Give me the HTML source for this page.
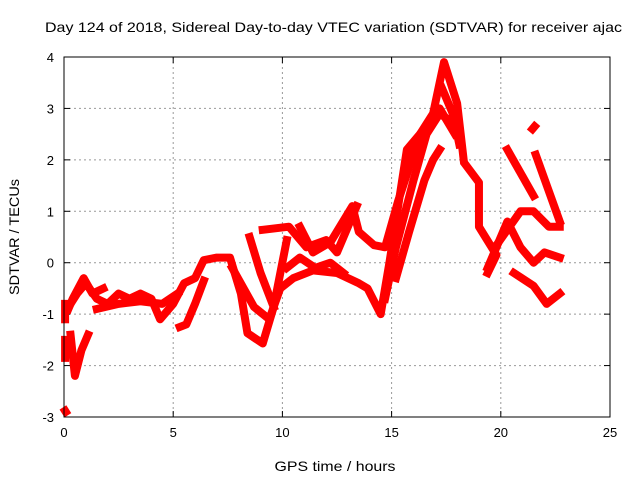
<!DOCTYPE html>
<html><head><meta charset="utf-8"><style>
body{margin:0;background:#fff}
svg{display:block;font-family:"Liberation Sans",sans-serif}
</style></head><body>
<svg id="chart" width="640" height="480" viewBox="0 0 640 480" xmlns="http://www.w3.org/2000/svg">
<text x="45" y="32" font-size="14" textLength="577" lengthAdjust="spacingAndGlyphs">Day 124 of 2018, Sidereal Day-to-day VTEC variation (SDTVAR) for receiver ajac</text>
<text transform="translate(19,237) rotate(-90)" text-anchor="middle" font-size="14" textLength="116" lengthAdjust="spacingAndGlyphs">SDTVAR / TECUs</text>
<text x="335" y="471" text-anchor="middle" font-size="14" textLength="121" lengthAdjust="spacingAndGlyphs">GPS time / hours</text>
<g id="grid"></g><g id="ticks"></g><g id="marks"></g>
<rect x="64" y="57" width="546" height="360" fill="none" stroke="#000" stroke-width="1"/>
</svg>
<script>
const xTicks=[0,5,10,15,20,25];
const yTicks=[-3,-2,-1,0,1,2,3,4];
const track1=[[0.3,-0.8],[0.6,-0.6],[1,-0.4],[1.5,-0.7],[2,-0.8],[2.5,-0.6],[3,-0.7],[3.5,-0.6],[4,-0.7],[4.4,-1.1],[5,-0.8],[5.5,-0.4],[6,-0.3],[6.4,0.05],[7,0.1],[7.6,0.1],[8.1,-0.6],[8.4,-1.37],[9.1,-1.57],[9.6,-0.86],[10.2,0.44]];
const track2=[[0.3,-1.4],[0.5,-2.2],[0.8,-1.7],[1.1,-1.4]];
const track3=[[0.2,-0.9],[0.4,-0.7],[0.9,-0.3],[1.3,-0.6],[1.8,-0.5]];
const track4=[[6.4,-0.35],[6,-0.8],[5.6,-1.2],[5.3,-1.25]];
const track5=[[7.7,-0.1],[8.7,-0.86],[9.4,-1.1],[9.9,-0.5],[10.5,-0.3],[11.4,-0.15],[12.5,-0.2],[13.5,-0.4],[13.9,-0.5],[14.5,-1.0],[14.9,0],[15.7,2.2],[16.3,2.5],[16.9,2.9],[17.4,3.9],[18,3.1],[18.3,2.0]];
const track6=[[8.5,0.5],[9,-0.2],[9.6,-0.86]];
const track7=[[9.1,0.64],[10.3,0.7],[11.1,0.3],[12,0.44],[12.5,0.2],[13.4,1.1]];
const track8=[[10.8,0.7],[11.4,0.2],[12.2,0.4],[13.2,1.1],[13.5,0.6],[14.2,0.34],[14.7,0.3],[15.3,1.2],[16.3,2.5],[17.2,3.0],[17.9,2.5]];
const track9=[[14.7,-0.7],[15.2,0.3],[16,1.6],[16.6,2.5],[17.2,2.9],[17.9,2.7]];
const track10=[[15.2,-0.3],[15.8,0.6],[16.5,1.6],[16.9,2.0],[17.2,2.2]];
const track11=[[18.4,1.9],[19,1.56],[19,0.7],[19.8,0.15],[19.4,-0.2]];
const track12=[[20.3,2.2],[21.5,1.3]];
const track13=[[21.6,2.1],[22.7,0.8]];
const track14=[[20.6,-0.2],[21.5,-0.45],[22.1,-0.8],[22.7,-0.6]];
const track15=[[19.9,0.4],[20.9,1.0],[21.5,1.0],[22.2,0.7],[22.7,0.7]];
const track16=[[19.4,-0.1],[20.3,0.8],[20.9,0.3],[21.5,0],[22,0.2],[22.7,0.1]];
const track17=[[21.45,2.6],[21.55,2.65]];
const track18=[[0.05,-0.8],[0.05,-1.1]];
const track19=[[0.05,-1.5],[0.05,-1.85]];
const track20=[[0.05,-2.88],[0.08,-2.9]];
const track21=[[1.5,-0.9],[2.5,-0.8],[3.5,-0.75],[4.5,-0.8],[5.2,-0.6]];
const track22=[[10.2,-0.1],[10.8,0.1],[11.5,-0.1],[12.2,0],[12.8,-0.2]];
const track23=[[17.3,3.4],[17.8,2.9],[18.1,2.3]];
const tracks=[track1,track2,track3,track4,track5,track6,track7,track8,track9,track10,track11,track12,track13,track14,track15,track16,track17,track18,track19,track20,track21,track22,track23];
const X=h=>64+h*(546/25);
const Y=v=>417-(v+3)*(360/7);
const NS="http://www.w3.org/2000/svg";
const grid=document.getElementById('grid'),ticks=document.getElementById('ticks'),marks=document.getElementById('marks');
function mk(t,a,p){const e=document.createElementNS(NS,t);for(const k in a)e.setAttribute(k,a[k]);p.appendChild(e);return e;}
xTicks.forEach(t=>{
 const x=X(t);
 if(t>0&&t<25){const g=mk('line',{x1:x,x2:x,y1:57,y2:417,stroke:'#999','stroke-dasharray':'2,3'},grid);
 
 }
 mk('line',{x1:x,x2:x,y1:417,y2:411,stroke:'#000'},ticks);mk('line',{x1:x,x2:x,y1:57,y2:63,stroke:'#000'},ticks);
 const l=mk('text',{x:x,y:437,'text-anchor':'middle','font-size':13},ticks);l.textContent=t;
 
 
});
yTicks.forEach(t=>{
 const y=Y(t);
 if(t>-3&&t<4){const g=mk('line',{x1:64,x2:610,y1:y,y2:y,stroke:'#999','stroke-dasharray':'2,3'},grid);
 
 }
 mk('line',{x1:64,x2:70,y1:y,y2:y,stroke:'#000'},ticks);mk('line',{x1:610,x2:604,y1:y,y2:y,stroke:'#000'},ticks);
 const l=mk('text',{x:54,y:y+5,'text-anchor':'end','font-size':13},ticks);l.textContent=t;
 
 
});
tracks.forEach(tr=>{
 const p=mk('polyline',{points:tr.map(d=>X(d[0])+','+Y(d[1])).join(' '),fill:'none',stroke:'#f00','stroke-width':8,'stroke-linejoin':'round','stroke-linecap':'square'},marks);
 
 
});
</script>
</body></html>
